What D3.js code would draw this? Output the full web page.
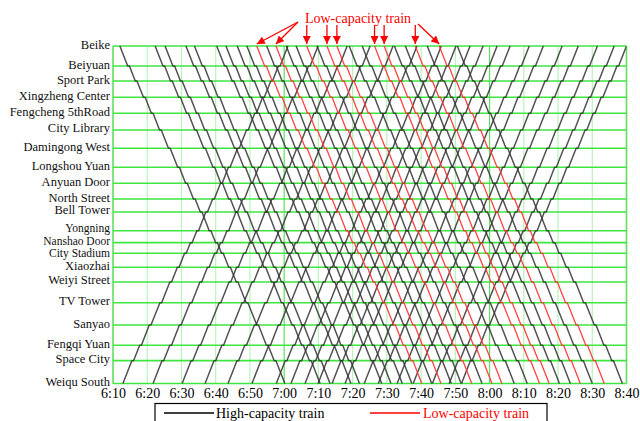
<!DOCTYPE html>
<html><head><meta charset="utf-8">
<script src="https://cdn.jsdelivr.net/npm/d3@7/dist/d3.min.js"></script>
<style>html,body{margin:0;padding:0;background:#fff;}svg{display:block;}</style>
</head><body>
<svg id="chart" width="640" height="421"></svg>
<script>
// ---------------- data ----------------
const stations = ["Beike","Beiyuan","Sport Park","Xingzheng Center","Fengcheng 5thRoad","City Library",
  "Damingong West","Longshou Yuan","Anyuan Door","North Street","Bell Tower","Yongning","Nanshao Door",
  "City Stadium","Xiaozhai","Weiyi Street","TV Tower","Sanyao","Fengqi Yuan","Space City","Weiqu South"];
// cumulative distance (km) from Beike
const stationKm = [0,1.58,2.76,4.04,5.30,6.62,8.06,9.56,10.82,12.06,13.08,14.56,15.50,16.34,17.44,18.60,20.23,21.99,23.59,24.80,26.60];
// running time between consecutive stations (min)
const sectionRun = [2.3,1.7,1.9,1.8,1.9,2.1,2.2,1.8,1.8,1.5,2.1,1.4,1.2,1.6,1.7,2.4,2.6,2.3,1.8,2.6];
const dwellMin = 0.5;
// departure times, minutes after 6:00
const downHigh = [12.0,22.3,25.2,31.3,33.8,40.3,43.0,46.3,49.1,54.9,60.6,63.5,69.6,79.0,82.8,92.2,95.4,101.8,110.6];
const downLow  = [52.0,57.6,66.6,72.5,75.4,86.4,89.2,98.3,105.3];
const upHigh   = [12.9,21.7,30.2,36.9,43.6,50.6,57.7,62.0,66.1,69.9,74.0,77.8,83.4,87.5,93.0,97.7,103.3,108.2,111.8];
const tickLabels = ["6:10","6:20","6:30","6:40","6:50","7:00","7:10","7:20","7:30","7:40","7:50","8:00","8:10","8:20","8:30","8:40"];
const legendLabels = ["High-capacity train","Low-capacity train"];
const annotation = "Low-capacity train";

// ---------------- layout ----------------
const svg = d3.select("#chart");
const L = 113, R = 626.5, T = 46, B = 383.5;
const font = "'Liberation Serif','Times New Roman',serif";
const toMin = s => { const [h,m] = s.split(":").map(Number); return (h-6)*60 + m; };
const x = d3.scaleLinear().domain([toMin(tickLabels[0]), toMin(tickLabels[tickLabels.length-1])]).range([L, R]);
const y = d3.scaleLinear().domain([0, stationKm[stationKm.length-1]]).range([T, B]);

// vertical grid
svg.append("g").selectAll("line").data(tickLabels).join("line")
  .attr("x1", d => x(toMin(d))).attr("x2", d => x(toMin(d)))
  .attr("y1", T).attr("y2", B)
  .attr("stroke", (d,i) => (d.endsWith(":00") || i===0 || i===tickLabels.length-1) ? "#5fe05f" : "#b9f3b9")
  .attr("stroke-width", (d,i) => (i===0 || i===tickLabels.length-1) ? 1.6 : 1.2);

// horizontal station lines
svg.append("g").selectAll("line").data(stationKm).join("line")
  .attr("x1", L).attr("x2", R)
  .attr("y1", d => y(d)).attr("y2", d => y(d))
  .attr("stroke", "#3fe63f").attr("stroke-width", 1.6);

// station labels (three tightly spaced stations get a slightly smaller font / nudge)
const tight = {"Yongning": [11.5, -1.2], "Nanshao Door": [11.5, 0], "City Stadium": [11.5, 1.2]};
svg.append("g").selectAll("text").data(stations).join("text")
  .attr("x", 110).attr("y", (d,i) => y(stationKm[i]) - 1.5 + (tight[d] ? tight[d][1] : 0))
  .attr("text-anchor", "end").attr("dominant-baseline", "central")
  .attr("font-family", font).attr("font-size", d => tight[d] ? tight[d][0] : 12.5).attr("fill", "#111")
  .text(d => d);

// x axis labels
const ax = d3.axisBottom(x).tickValues(tickLabels.map(toMin)).tickFormat((d,i) => tickLabels[i]).tickSize(0).tickPadding(5);
const axg = svg.append("g").attr("transform", `translate(0,${B})`).call(ax);
axg.select(".domain").remove();
axg.selectAll("text").attr("font-family", font).attr("font-size", 14).attr("fill", "#000");

// train paths
function trainPoints(start, dir) {
  const n = stationKm.length, pts = [];
  let t = start;
  const order = dir === "down" ? d3.range(n) : d3.range(n-1, -1, -1);
  pts.push([t, stationKm[order[0]]]);
  for (let k = 1; k < n; k++) {
    const i = order[k], prev = order[k-1];
    t += sectionRun[Math.min(i, prev)];
    pts.push([t, stationKm[i]]);
    if (k < n-1) { t += dwellMin; pts.push([t, stationKm[i]]); }
  }
  return pts;
}
svg.append("defs").append("clipPath").attr("id","plot").append("rect")
  .attr("x", L).attr("y", T-1).attr("width", R-L).attr("height", B-T+2);
const line = d3.line().x(d => x(d[0])).y(d => y(d[1]));
const trains = [
  ...downHigh.map(s => ({s, dir:"down", low:false})),
  ...upHigh.map(s => ({s, dir:"up", low:false})),
  ...downLow.map(s => ({s, dir:"down", low:true}))
];
svg.append("g").attr("clip-path","url(#plot)").selectAll("path").data(trains).join("path")
  .attr("d", d => line(trainPoints(d.s, d.dir)))
  .attr("fill", "none")
  .attr("stroke", d => d.low ? "#ff3030" : "#333333")
  .attr("stroke-width", d => d.low ? 1.3 : 1.5)
  .attr("stroke-opacity", d => d.low ? 0.9 : 0.85)
  .attr("stroke-linejoin", "round");

// annotation
const red = "#ff0000";
const defs = svg.select("defs");
defs.append("marker").attr("id","arr").attr("viewBox","0 0 10 10").attr("refX",10).attr("refY",5)
  .attr("markerWidth",9).attr("markerHeight",8).attr("markerUnits","userSpaceOnUse").attr("orient","auto")
  .append("path").attr("d","M0,0L10,5L0,10Z").attr("fill", red);
svg.append("text").attr("x", 358).attr("y", 18).attr("text-anchor","middle").attr("dominant-baseline","central")
  .attr("font-family", font).attr("font-size", 14).attr("fill", red).text(annotation);
svg.append("g").selectAll("line").data(downLow).join("line")
  .attr("x1", d => x(d) < 300 ? 298 : (x(d) > 416 ? 418 : x(d)))
  .attr("y1", d => x(d) < 300 ? 22 : (x(d) > 416 ? 24 : 25))
  .attr("x2", d => x(d)).attr("y2", 44)
  .attr("stroke", red).attr("stroke-width", 1.3).attr("marker-end","url(#arr)");

// legend
const lg = svg.append("g");
lg.append("rect").attr("x",155).attr("y",403.5).attr("width",392).attr("height",30)
  .attr("fill","none").attr("stroke","#000").attr("stroke-width",1.2);
lg.append("line").attr("x1",164).attr("x2",214).attr("y1",413).attr("y2",413).attr("stroke","#000").attr("stroke-width",1.4);
lg.append("text").attr("x",216).attr("y",413).attr("dominant-baseline","central")
  .attr("font-family",font).attr("font-size",14).attr("fill","#000").text(legendLabels[0]);
lg.append("line").attr("x1",370).attr("x2",420).attr("y1",413).attr("y2",413).attr("stroke",red).attr("stroke-width",1.4);
lg.append("text").attr("x",423).attr("y",413).attr("dominant-baseline","central")
  .attr("font-family",font).attr("font-size",14).attr("fill",red).text(legendLabels[1]);
</script>
</body></html>
